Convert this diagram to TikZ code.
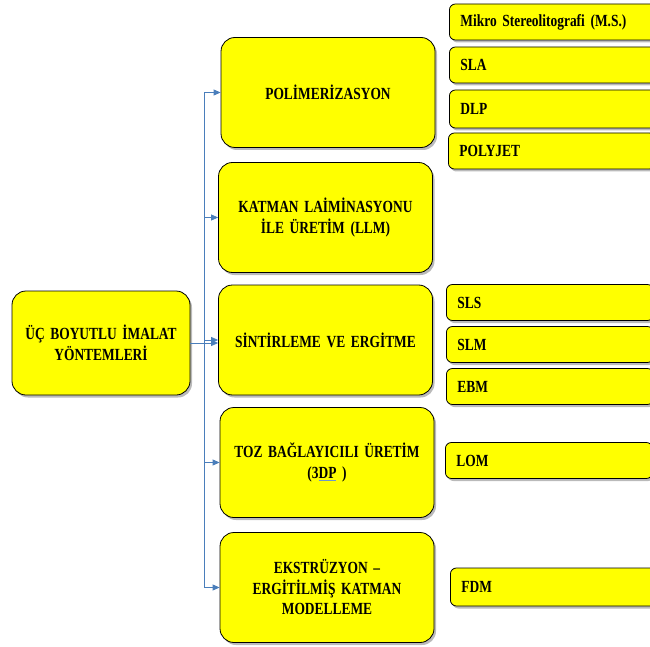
\documentclass[tikz,border=0pt]{standalone}
\usepackage{fontspec}
\setmainfont{Liberation Serif}[FakeStretch=0.79, WordSpace=0.8]
\usetikzlibrary{shadows,arrows.meta}
\definecolor{conn}{HTML}{4A7EBB}
\definecolor{boxfill}{RGB}{255,255,0}
\tikzset{
  box/.style={draw=black, fill=boxfill, line width=0.8pt,
    drop shadow={shadow xshift=2pt, shadow yshift=-2.5pt, opacity=0.45, fill=black!60},
    font=\bfseries\fontsize{17}{20.5}\selectfont},
  midbox/.style={box, rounded corners=14pt, align=center, text width=200pt,
    minimum width=214pt, minimum height=110pt, inner sep=0pt},
  leftbox/.style={box, rounded corners=14pt, align=center, text width=172pt,
    minimum width=178pt, minimum height=104pt, inner sep=0pt},
  subbox/.style={box, rounded corners=6pt, anchor=west, align=left, text width=185pt,
    minimum width=206pt, minimum height=36pt, inner xsep=11pt, inner ysep=0pt},
  link/.style={draw=conn, line width=0.8pt},
  arr/.style={link, -{Triangle[width=6pt,length=7pt]}}
}
\begin{document}
\begin{tikzpicture}[x=1pt,y=-1pt]
\useasboundingbox (0,0) rectangle (650,647);
\clip (0,0) rectangle (650,647);

\node[leftbox] (L) at (101,343) {ÜÇ BOYUTLU İMALAT\\YÖNTEMLERİ};

\node[midbox] (P) at (328,92.5) {POLİMERİZASYON};
\node[midbox] (K) at (325.5,217.5) {KATMAN LAİMİNASYONU\\İLE ÜRETİM (LLM)};
\node[midbox] (S) at (325.5,340) {SİNTİRLEME VE ERGİTME};
\node[midbox] (T) at (327,462.5) {TOZ BAĞLAYICILI ÜRETİM\\(3{\color{conn!80}\underline{\textcolor{black}{DP}}} )};
\node[midbox] (E) at (327,587.5) {EKSTRÜZYON –\\ERGİTİLMİŞ KATMAN\\MODELLEME};

\node[subbox] (ms) at (449,22) {Mikro Stereolitografi (M.S.)};
\node[subbox] (sla) at (449,65) {SLA};
\node[subbox, minimum height=38pt] (dlp) at (449,109) {DLP};
\node[subbox] (pj) at (448,151) {POLYJET};
\node[subbox] (sls) at (446,302.5) {SLS};
\node[subbox] (slm) at (446,344.5) {SLM};
\node[subbox] (ebm) at (446,386.5) {EBM};
\node[subbox] (lom) at (445,460.5) {LOM};
\node[subbox, minimum height=38pt] (fdm) at (450,587) {FDM};

\coordinate (tt) at (204,0);
\draw[link] (P.west -| tt) -- (E.west -| tt);
\foreach \n in {P,K,S,T,E} \draw[arr] (\n.west -| tt) -- (\n.west);
\draw[arr] (L.east) -- (L.east -| S.west);
\end{tikzpicture}
\end{document}
